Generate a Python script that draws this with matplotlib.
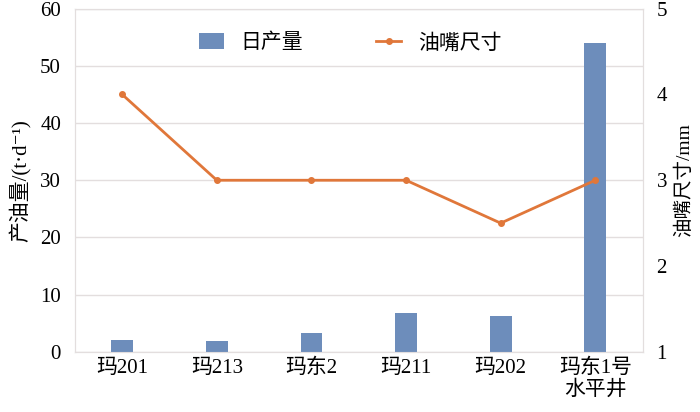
import matplotlib
matplotlib.use("Agg")
import matplotlib.pyplot as plt
import numpy as np

plt.rcParams['font.family'] = ['Liberation Serif', 'Noto Sans CJK SC', 'DejaVu Sans']

wells = ['玛201', '玛213', '玛东2', '玛211', '玛202', '玛东1号\n水平井']
daily_output = [2.1, 1.9, 3.3, 6.8, 6.3, 54.0]
choke_size = [4.0, 3.0, 3.0, 3.0, 2.5, 3.0]

bar_color = '#6D8DBB'
line_color = '#E0773A'
grid_color = '#E3DEDE'

fig = plt.figure(figsize=(7, 4.12), dpi=100)
ax = fig.add_axes([0.107, 0.146, 0.811, 0.833])
ax2 = ax.twinx()

x = np.arange(len(wells))
bars = ax.bar(x, daily_output, width=0.23, color=bar_color, label='日产量', zorder=3)
line, = ax2.plot(x, choke_size, color=line_color, lw=2, marker='o', ms=4,
                 label='油嘴尺寸', zorder=4)

ax.set_xlim(-0.5, len(wells) - 0.5)
ax.set_ylim(0, 60)
ax.set_yticks(range(0, 61, 10))
ax2.set_ylim(1, 5)
ax2.set_yticks(range(1, 6))

ax.set_xticks(x)
ax.set_xticklabels(wells, fontsize=15, linespacing=1.15)
ax.tick_params(axis='y', labelsize=15, length=0, pad=10)
ax.tick_params(axis='x', length=0, pad=5)
ax2.tick_params(axis='y', labelsize=15, length=0, pad=10)

ax.grid(axis='y', color=grid_color, lw=1, zorder=0)
for a in (ax, ax2):
    for s in a.spines.values():
        s.set_color(grid_color)

ax.set_ylabel('产油量/(t·d⁻¹)', fontsize=15, labelpad=6)
ax2.set_ylabel('油嘴尺寸/mm', fontsize=14, labelpad=6)

ax.set_zorder(ax2.get_zorder() - 1)
ax.patch.set_visible(False)

fig.legend([bars, line], ['日产量', '油嘴尺寸'], loc='upper center',
           bbox_to_anchor=(0.5, 0.965), ncol=2, frameon=False, fontsize=15,
           handlelength=1.2, handleheight=0.8, columnspacing=3.5)

fig.savefig('out.png', dpi=100)
